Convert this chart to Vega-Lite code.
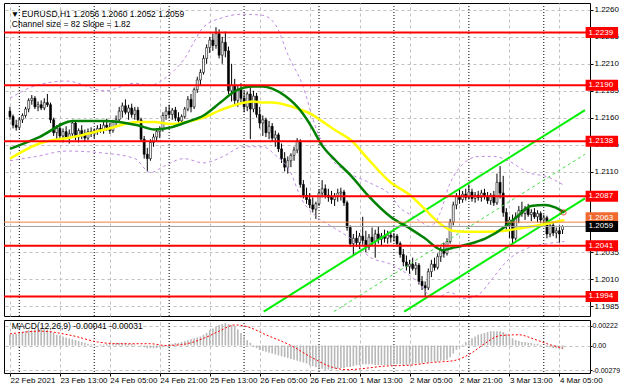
{
"$schema":"https://vega.github.io/schema/vega-lite/v6.json",
"background":"#ffffff",
"padding":{"left":2,"top":2,"right":0,"bottom":0},
"spacing":2,
"config":{"view":{"stroke":"#000000","strokeWidth":1},"font":"Liberation Sans"},
"datasets":{
"seps":[{"d":3},{"d":27},{"d":51},{"d":75},{"d":99},{"d":123},{"d":147},{"d":171}],
"levels":[{"v":1.2239},{"v":1.2190},{"v":1.2138},{"v":1.2087},{"v":1.2041},{"v":1.1994}],
"cur":[{"v":1.2063,"k":"ask"},{"v":1.2059,"k":"bid"}],
"tags":[{"v":1.2239,"t":"1.2239","k":"level"},{"v":1.2190,"t":"1.2190","k":"level"},{"v":1.2138,"t":"1.2138","k":"level"},{"v":1.2087,"t":"1.2087","k":"level"},{"v":1.2041,"t":"1.2041","k":"level"},{"v":1.1994,"t":"1.1994","k":"level"},{"v":1.2067,"t":"1.2063","k":"ask"},{"v":1.2059,"t":"1.2059","k":"bid"}],
"circ":[{"i":177.3,"p":1.2072}],
"chan":[{"ln":"upper","i":81.3,"p":1.1980},{"ln":"upper","i":184.2,"p":1.2167},{"ln":"mid","i":103.8,"p":1.1980},{"ln":"mid","i":184.2,"p":1.2126},{"ln":"lower","i":126.3,"p":1.1980},{"ln":"lower","i":184.2,"p":1.2085}],
"ma":[{"i":0,"gr":1.2131,"ye":1.2122},{"i":9.4,"gr":1.2142,"ye":1.2136},{"i":20.2,"gr":1.2157,"ye":1.2142},{"i":30.5,"gr":1.2157,"ye":1.2149},{"i":40.9,"gr":1.2153,"ye":1.2156},{"i":46.3,"gr":1.2149,"ye":1.2156},{"i":51.6,"gr":1.2151,"ye":1.2154},{"i":56.7,"gr":1.2156,"ye":1.2156},{"i":62,"gr":1.2162,"ye":1.2160},{"i":67.4,"gr":1.2174,"ye":1.2167},{"i":72.4,"gr":1.2185,"ye":1.2172},{"i":77.8,"gr":1.2189,"ye":1.2175},{"i":81,"gr":1.2189,"ye":1.2174},{"i":84,"gr":1.2187,"ye":1.2174},{"i":88.2,"gr":1.2180,"ye":1.2172},{"i":93.5,"gr":1.2165,"ye":1.2167},{"i":96.7,"gr":1.2151,"ye":1.2163},{"i":99.8,"gr":1.2135,"ye":1.2157},{"i":104.4,"gr":1.2120,"ye":1.2148},{"i":109.3,"gr":1.2106,"ye":1.2139},{"i":114.6,"gr":1.2088,"ye":1.2122},{"i":121.9,"gr":1.2068,"ye":1.2100},{"i":128.2,"gr":1.2057,"ye":1.2088},{"i":132.9,"gr":1.2048,"ye":1.2075},{"i":138.5,"gr":1.2037,"ye":1.2060},{"i":141.7,"gr":1.2039,"ye":1.2055},{"i":146.1,"gr":1.2042,"ye":1.2054},{"i":152.4,"gr":1.2048,"ye":1.2054},{"i":158.7,"gr":1.2059,"ye":1.2055},{"i":162.8,"gr":1.2069,"ye":1.2057},{"i":166.9,"gr":1.2078,"ye":1.2059},{"i":171.3,"gr":1.2079,"ye":1.2061},{"i":174.4,"gr":1.2077,"ye":1.2063},{"i":177.6,"gr":1.2072,"ye":1.2065}],
"bb":[{"i":0,"u":1.2178,"lo":1.2120},{"i":8.5,"u":1.2190,"lo":1.2124},{"i":18,"u":1.2194,"lo":1.2129},{"i":30.5,"u":1.2185,"lo":1.2127},{"i":40,"u":1.2192,"lo":1.2122},{"i":45,"u":1.2190,"lo":1.2109},{"i":49.4,"u":1.2196,"lo":1.2115},{"i":55.7,"u":1.2214,"lo":1.2122},{"i":62,"u":1.2244,"lo":1.2118},{"i":68.3,"u":1.2253,"lo":1.2124},{"i":74.6,"u":1.2256,"lo":1.2133},{"i":81,"u":1.2255,"lo":1.2133},{"i":85.1,"u":1.2246,"lo":1.2125},{"i":89.4,"u":1.2216,"lo":1.2112},{"i":93.5,"u":1.2192,"lo":1.2084},{"i":98.2,"u":1.2149,"lo":1.2068},{"i":103,"u":1.2122,"lo":1.2059},{"i":109,"u":1.2108,"lo":1.2048},{"i":115.6,"u":1.2099,"lo":1.2030},{"i":121.9,"u":1.2088,"lo":1.2024},{"i":125,"u":1.2076,"lo":1.2019},{"i":128.2,"u":1.2070,"lo":1.2013},{"i":131.3,"u":1.2064,"lo":1.2006},{"i":134.4,"u":1.2059,"lo":1.1995},{"i":137.6,"u":1.2070,"lo":1.1994},{"i":140.7,"u":1.2097,"lo":1.1998},{"i":145.5,"u":1.2118,"lo":1.1992},{"i":150.2,"u":1.2124,"lo":1.1996},{"i":154.9,"u":1.2124,"lo":1.2012},{"i":159.6,"u":1.2120,"lo":1.2028},{"i":166,"u":1.2109,"lo":1.2039},{"i":172.2,"u":1.2105,"lo":1.2043},{"i":177.6,"u":1.2097,"lo":1.2045}],
"sig":[{"i":0,"s":0.0013},{"i":10,"s":0.0016},{"i":20,"s":0.0011},{"i":28,"s":0.0004},{"i":35,"s":0.0002},{"i":45,"s":0.0002},{"i":50,"s":0.0000},{"i":55,"s":0.0001},{"i":62,"s":0.0008},{"i":67,"s":0.0016},{"i":72,"s":0.0023},{"i":76,"s":0.0021},{"i":82,"s":0.0012},{"i":90,"s":0.0000},{"i":97,"s":-0.0014},{"i":103,"s":-0.0024},{"i":108,"s":-0.0027},{"i":115,"s":-0.0025},{"i":120,"s":-0.0023},{"i":128,"s":-0.0022},{"i":135,"s":-0.0019},{"i":142,"s":-0.0017},{"i":148,"s":-0.0008},{"i":152,"s":0.0002},{"i":157,"s":0.0011},{"i":163,"s":0.0012},{"i":168,"s":0.0007},{"i":172,"s":0.0002},{"i":177,"s":-0.0003}],
"bars":[
{"i":0,"o":1.2166,"h":1.2170,"l":1.2158,"c":1.2161,"m":0.0012},
{"i":1,"o":1.2161,"h":1.2163,"l":1.2150,"c":1.2153,"m":0.0013},
{"i":2,"o":1.2153,"h":1.2158,"l":1.2148,"c":1.2151,"m":0.0013},
{"i":3,"o":1.2151,"h":1.2160,"l":1.2149,"c":1.2158,"m":0.0014},
{"i":4,"o":1.2158,"h":1.2164,"l":1.2155,"c":1.2162,"m":0.0015},
{"i":5,"o":1.2162,"h":1.2170,"l":1.2160,"c":1.2168,"m":0.0016},
{"i":6,"o":1.2168,"h":1.2178,"l":1.2165,"c":1.2176,"m":0.0017},
{"i":7,"o":1.2176,"h":1.2181,"l":1.2172,"c":1.2178,"m":0.0017},
{"i":8,"o":1.2178,"h":1.2180,"l":1.2168,"c":1.2170,"m":0.0018},
{"i":9,"o":1.2170,"h":1.2175,"l":1.2166,"c":1.2172,"m":0.0018},
{"i":10,"o":1.2172,"h":1.2176,"l":1.2167,"c":1.2169,"m":0.0019},
{"i":11,"o":1.2169,"h":1.2178,"l":1.2167,"c":1.2174,"m":0.0019},
{"i":12,"o":1.2174,"h":1.2182,"l":1.2170,"c":1.2172,"m":0.0018},
{"i":13,"o":1.2172,"h":1.2174,"l":1.2155,"c":1.2158,"m":0.0016},
{"i":14,"o":1.2158,"h":1.2160,"l":1.2143,"c":1.2146,"m":0.0014},
{"i":15,"o":1.2146,"h":1.2153,"l":1.2140,"c":1.2150,"m":0.0012},
{"i":16,"o":1.2150,"h":1.2155,"l":1.2141,"c":1.2143,"m":0.0011},
{"i":17,"o":1.2143,"h":1.2150,"l":1.2137,"c":1.2147,"m":0.0010},
{"i":18,"o":1.2147,"h":1.2152,"l":1.2140,"c":1.2141,"m":0.0009},
{"i":19,"o":1.2141,"h":1.2149,"l":1.2136,"c":1.2145,"m":0.0008},
{"i":20,"o":1.2145,"h":1.2158,"l":1.2143,"c":1.2155,"m":0.0007},
{"i":21,"o":1.2155,"h":1.2157,"l":1.2139,"c":1.2142,"m":0.0006},
{"i":22,"o":1.2142,"h":1.2150,"l":1.2137,"c":1.2148,"m":0.0005},
{"i":23,"o":1.2148,"h":1.2153,"l":1.2140,"c":1.2144,"m":0.0004},
{"i":24,"o":1.2144,"h":1.2149,"l":1.2138,"c":1.2141,"m":0.0003},
{"i":25,"o":1.2141,"h":1.2150,"l":1.2139,"c":1.2147,"m":0.0002},
{"i":26,"o":1.2147,"h":1.2151,"l":1.2142,"c":1.2145,"m":0.0001},
{"i":27,"o":1.2145,"h":1.2150,"l":1.2141,"c":1.2148,"m":0.0001},
{"i":28,"o":1.2148,"h":1.2153,"l":1.2144,"c":1.2150,"m":0.0000},
{"i":29,"o":1.2150,"h":1.2154,"l":1.2146,"c":1.2149,"m":0.0001},
{"i":30,"o":1.2149,"h":1.2156,"l":1.2145,"c":1.2153,"m":0.0001},
{"i":31,"o":1.2153,"h":1.2159,"l":1.2148,"c":1.2151,"m":0.0002},
{"i":32,"o":1.2151,"h":1.2155,"l":1.2145,"c":1.2148,"m":0.0002},
{"i":33,"o":1.2148,"h":1.2158,"l":1.2146,"c":1.2156,"m":0.0002},
{"i":34,"o":1.2156,"h":1.2162,"l":1.2152,"c":1.2158,"m":0.0003},
{"i":35,"o":1.2158,"h":1.2170,"l":1.2155,"c":1.2166,"m":0.0003},
{"i":36,"o":1.2166,"h":1.2174,"l":1.2160,"c":1.2171,"m":0.0003},
{"i":37,"o":1.2171,"h":1.2177,"l":1.2163,"c":1.2165,"m":0.0003},
{"i":38,"o":1.2165,"h":1.2172,"l":1.2158,"c":1.2169,"m":0.0002},
{"i":39,"o":1.2169,"h":1.2173,"l":1.2160,"c":1.2163,"m":0.0002},
{"i":40,"o":1.2163,"h":1.2170,"l":1.2158,"c":1.2167,"m":0.0001},
{"i":41,"o":1.2167,"h":1.2170,"l":1.2155,"c":1.2158,"m":0.0000},
{"i":42,"o":1.2158,"h":1.2160,"l":1.2138,"c":1.2140,"m":-0.0001},
{"i":43,"o":1.2140,"h":1.2143,"l":1.2122,"c":1.2126,"m":-0.0002},
{"i":44,"o":1.2126,"h":1.2132,"l":1.2110,"c":1.2122,"m":-0.0003},
{"i":45,"o":1.2122,"h":1.2140,"l":1.2120,"c":1.2137,"m":-0.0003},
{"i":46,"o":1.2137,"h":1.2145,"l":1.2133,"c":1.2142,"m":-0.0003},
{"i":47,"o":1.2142,"h":1.2150,"l":1.2138,"c":1.2147,"m":-0.0003},
{"i":48,"o":1.2147,"h":1.2152,"l":1.2141,"c":1.2149,"m":-0.0002},
{"i":49,"o":1.2149,"h":1.2165,"l":1.2147,"c":1.2162,"m":-0.0002},
{"i":50,"o":1.2162,"h":1.2170,"l":1.2158,"c":1.2166,"m":-0.0001},
{"i":51,"o":1.2166,"h":1.2172,"l":1.2160,"c":1.2163,"m":0.0001},
{"i":52,"o":1.2163,"h":1.2169,"l":1.2158,"c":1.2167,"m":0.0002},
{"i":53,"o":1.2167,"h":1.2170,"l":1.2157,"c":1.2160,"m":0.0003},
{"i":54,"o":1.2160,"h":1.2165,"l":1.2154,"c":1.2157,"m":0.0003},
{"i":55,"o":1.2157,"h":1.2163,"l":1.2155,"c":1.2161,"m":0.0004},
{"i":56,"o":1.2161,"h":1.2170,"l":1.2159,"c":1.2168,"m":0.0005},
{"i":57,"o":1.2168,"h":1.2180,"l":1.2166,"c":1.2177,"m":0.0006},
{"i":58,"o":1.2177,"h":1.2182,"l":1.2165,"c":1.2170,"m":0.0007},
{"i":59,"o":1.2170,"h":1.2188,"l":1.2168,"c":1.2186,"m":0.0008},
{"i":60,"o":1.2186,"h":1.2198,"l":1.2183,"c":1.2195,"m":0.0009},
{"i":61,"o":1.2195,"h":1.2205,"l":1.2190,"c":1.2202,"m":0.0010},
{"i":62,"o":1.2202,"h":1.2218,"l":1.2200,"c":1.2215,"m":0.0012},
{"i":63,"o":1.2215,"h":1.2228,"l":1.2210,"c":1.2225,"m":0.0014},
{"i":64,"o":1.2225,"h":1.2235,"l":1.2220,"c":1.2232,"m":0.0017},
{"i":65,"o":1.2232,"h":1.2238,"l":1.2222,"c":1.2227,"m":0.0019},
{"i":66,"o":1.2227,"h":1.2244,"l":1.2224,"c":1.2238,"m":0.0021},
{"i":67,"o":1.2238,"h":1.2242,"l":1.2215,"c":1.2218,"m":0.0023},
{"i":68,"o":1.2218,"h":1.2235,"l":1.2210,"c":1.2230,"m":0.0024},
{"i":69,"o":1.2230,"h":1.2240,"l":1.2216,"c":1.2222,"m":0.0025},
{"i":70,"o":1.2222,"h":1.2226,"l":1.2182,"c":1.2185,"m":0.0024},
{"i":71,"o":1.2185,"h":1.2210,"l":1.2175,"c":1.2190,"m":0.0023},
{"i":72,"o":1.2190,"h":1.2196,"l":1.2172,"c":1.2176,"m":0.0021},
{"i":73,"o":1.2176,"h":1.2190,"l":1.2170,"c":1.2186,"m":0.0018},
{"i":74,"o":1.2186,"h":1.2192,"l":1.2174,"c":1.2178,"m":0.0014},
{"i":75,"o":1.2178,"h":1.2185,"l":1.2165,"c":1.2170,"m":0.0010},
{"i":76,"o":1.2170,"h":1.2184,"l":1.2166,"c":1.2182,"m":0.0006},
{"i":77,"o":1.2182,"h":1.2188,"l":1.2140,"c":1.2168,"m":0.0003},
{"i":78,"o":1.2168,"h":1.2185,"l":1.2165,"c":1.2180,"m":-0.0001},
{"i":79,"o":1.2180,"h":1.2183,"l":1.2160,"c":1.2163,"m":-0.0003},
{"i":80,"o":1.2163,"h":1.2170,"l":1.2150,"c":1.2155,"m":-0.0005},
{"i":81,"o":1.2155,"h":1.2162,"l":1.2143,"c":1.2158,"m":-0.0006},
{"i":82,"o":1.2158,"h":1.2160,"l":1.2142,"c":1.2146,"m":-0.0007},
{"i":83,"o":1.2146,"h":1.2157,"l":1.2140,"c":1.2152,"m":-0.0008},
{"i":84,"o":1.2152,"h":1.2155,"l":1.2138,"c":1.2141,"m":-0.0009},
{"i":85,"o":1.2141,"h":1.2148,"l":1.2133,"c":1.2144,"m":-0.0010},
{"i":86,"o":1.2144,"h":1.2146,"l":1.2128,"c":1.2131,"m":-0.0011},
{"i":87,"o":1.2131,"h":1.2136,"l":1.2118,"c":1.2122,"m":-0.0012},
{"i":88,"o":1.2122,"h":1.2128,"l":1.2110,"c":1.2114,"m":-0.0013},
{"i":89,"o":1.2114,"h":1.2124,"l":1.2108,"c":1.2120,"m":-0.0014},
{"i":90,"o":1.2120,"h":1.2127,"l":1.2114,"c":1.2125,"m":-0.0015},
{"i":91,"o":1.2125,"h":1.2133,"l":1.2120,"c":1.2130,"m":-0.0016},
{"i":92,"o":1.2130,"h":1.2141,"l":1.2127,"c":1.2138,"m":-0.0017},
{"i":93,"o":1.2138,"h":1.2140,"l":1.2095,"c":1.2098,"m":-0.0018},
{"i":94,"o":1.2098,"h":1.2102,"l":1.2085,"c":1.2088,"m":-0.0019},
{"i":95,"o":1.2088,"h":1.2095,"l":1.2080,"c":1.2084,"m":-0.0020},
{"i":96,"o":1.2084,"h":1.2090,"l":1.2076,"c":1.2079,"m":-0.0022},
{"i":97,"o":1.2079,"h":1.2086,"l":1.2072,"c":1.2075,"m":-0.0023},
{"i":98,"o":1.2075,"h":1.2082,"l":1.2066,"c":1.2080,"m":-0.0024},
{"i":99,"o":1.2080,"h":1.2093,"l":1.2078,"c":1.2090,"m":-0.0025},
{"i":100,"o":1.2090,"h":1.2102,"l":1.2086,"c":1.2094,"m":-0.0026},
{"i":101,"o":1.2094,"h":1.2098,"l":1.2085,"c":1.2088,"m":-0.0027},
{"i":102,"o":1.2088,"h":1.2094,"l":1.2082,"c":1.2086,"m":-0.0027},
{"i":103,"o":1.2086,"h":1.2092,"l":1.2080,"c":1.2084,"m":-0.0027},
{"i":104,"o":1.2084,"h":1.2090,"l":1.2078,"c":1.2087,"m":-0.0026},
{"i":105,"o":1.2087,"h":1.2094,"l":1.2082,"c":1.2090,"m":-0.0026},
{"i":106,"o":1.2090,"h":1.2095,"l":1.2083,"c":1.2091,"m":-0.0025},
{"i":107,"o":1.2091,"h":1.2093,"l":1.2078,"c":1.2081,"m":-0.0025},
{"i":108,"o":1.2081,"h":1.2083,"l":1.2055,"c":1.2058,"m":-0.0024},
{"i":109,"o":1.2058,"h":1.2060,"l":1.2040,"c":1.2043,"m":-0.0024},
{"i":110,"o":1.2043,"h":1.2052,"l":1.2032,"c":1.2048,"m":-0.0023},
{"i":111,"o":1.2048,"h":1.2055,"l":1.2040,"c":1.2044,"m":-0.0022},
{"i":112,"o":1.2044,"h":1.2053,"l":1.2038,"c":1.2050,"m":-0.0022},
{"i":113,"o":1.2050,"h":1.2068,"l":1.2042,"c":1.2046,"m":-0.0021},
{"i":114,"o":1.2046,"h":1.2055,"l":1.2035,"c":1.2040,"m":-0.0021},
{"i":115,"o":1.2040,"h":1.2052,"l":1.2037,"c":1.2049,"m":-0.0021},
{"i":116,"o":1.2049,"h":1.2058,"l":1.2041,"c":1.2045,"m":-0.0021},
{"i":117,"o":1.2045,"h":1.2056,"l":1.2030,"c":1.2052,"m":-0.0022},
{"i":118,"o":1.2052,"h":1.2059,"l":1.2043,"c":1.2047,"m":-0.0022},
{"i":119,"o":1.2047,"h":1.2053,"l":1.2041,"c":1.2050,"m":-0.0022},
{"i":120,"o":1.2050,"h":1.2056,"l":1.2044,"c":1.2048,"m":-0.0022},
{"i":121,"o":1.2048,"h":1.2055,"l":1.2043,"c":1.2051,"m":-0.0022},
{"i":122,"o":1.2051,"h":1.2054,"l":1.2044,"c":1.2049,"m":-0.0022},
{"i":123,"o":1.2049,"h":1.2053,"l":1.2045,"c":1.2050,"m":-0.0021},
{"i":124,"o":1.2050,"h":1.2052,"l":1.2040,"c":1.2043,"m":-0.0021},
{"i":125,"o":1.2043,"h":1.2045,"l":1.2030,"c":1.2033,"m":-0.0021},
{"i":126,"o":1.2033,"h":1.2038,"l":1.2022,"c":1.2026,"m":-0.0022},
{"i":127,"o":1.2026,"h":1.2032,"l":1.2018,"c":1.2022,"m":-0.0022},
{"i":128,"o":1.2022,"h":1.2028,"l":1.2015,"c":1.2024,"m":-0.0021},
{"i":129,"o":1.2024,"h":1.2030,"l":1.2018,"c":1.2020,"m":-0.0021},
{"i":130,"o":1.2020,"h":1.2026,"l":1.2014,"c":1.2023,"m":-0.0020},
{"i":131,"o":1.2023,"h":1.2025,"l":1.2005,"c":1.2008,"m":-0.0020},
{"i":132,"o":1.2008,"h":1.2013,"l":1.2000,"c":1.2004,"m":-0.0020},
{"i":133,"o":1.2004,"h":1.2008,"l":1.1994,"c":1.2002,"m":-0.0019},
{"i":134,"o":1.2002,"h":1.2020,"l":1.2000,"c":1.2017,"m":-0.0019},
{"i":135,"o":1.2017,"h":1.2028,"l":1.2012,"c":1.2024,"m":-0.0018},
{"i":136,"o":1.2024,"h":1.2030,"l":1.2018,"c":1.2021,"m":-0.0018},
{"i":137,"o":1.2021,"h":1.2034,"l":1.2019,"c":1.2031,"m":-0.0018},
{"i":138,"o":1.2031,"h":1.2040,"l":1.2026,"c":1.2037,"m":-0.0017},
{"i":139,"o":1.2037,"h":1.2044,"l":1.2030,"c":1.2034,"m":-0.0017},
{"i":140,"o":1.2034,"h":1.2048,"l":1.2032,"c":1.2045,"m":-0.0016},
{"i":141,"o":1.2045,"h":1.2066,"l":1.2043,"c":1.2063,"m":-0.0013},
{"i":142,"o":1.2063,"h":1.2082,"l":1.2060,"c":1.2079,"m":-0.0009},
{"i":143,"o":1.2079,"h":1.2090,"l":1.2075,"c":1.2087,"m":-0.0005},
{"i":144,"o":1.2087,"h":1.2093,"l":1.2080,"c":1.2084,"m":-0.0002},
{"i":145,"o":1.2084,"h":1.2092,"l":1.2081,"c":1.2089,"m":0.0001},
{"i":146,"o":1.2089,"h":1.2094,"l":1.2083,"c":1.2086,"m":0.0004},
{"i":147,"o":1.2086,"h":1.2098,"l":1.2084,"c":1.2091,"m":0.0006},
{"i":148,"o":1.2091,"h":1.2094,"l":1.2082,"c":1.2085,"m":0.0008},
{"i":149,"o":1.2085,"h":1.2091,"l":1.2081,"c":1.2088,"m":0.0010},
{"i":150,"o":1.2088,"h":1.2092,"l":1.2083,"c":1.2086,"m":0.0012},
{"i":151,"o":1.2086,"h":1.2093,"l":1.2082,"c":1.2090,"m":0.0013},
{"i":152,"o":1.2090,"h":1.2094,"l":1.2084,"c":1.2087,"m":0.0014},
{"i":153,"o":1.2087,"h":1.2091,"l":1.2080,"c":1.2083,"m":0.0015},
{"i":154,"o":1.2083,"h":1.2090,"l":1.2079,"c":1.2088,"m":0.0016},
{"i":155,"o":1.2088,"h":1.2092,"l":1.2078,"c":1.2081,"m":0.0016},
{"i":156,"o":1.2081,"h":1.2108,"l":1.2079,"c":1.2100,"m":0.0016},
{"i":157,"o":1.2100,"h":1.2115,"l":1.2085,"c":1.2090,"m":0.0016},
{"i":158,"o":1.2090,"h":1.2106,"l":1.2068,"c":1.2072,"m":0.0015},
{"i":159,"o":1.2072,"h":1.2076,"l":1.2055,"c":1.2060,"m":0.0013},
{"i":160,"o":1.2060,"h":1.2068,"l":1.2048,"c":1.2065,"m":0.0010},
{"i":161,"o":1.2065,"h":1.2070,"l":1.2043,"c":1.2048,"m":0.0008},
{"i":162,"o":1.2048,"h":1.2072,"l":1.2046,"c":1.2068,"m":0.0006},
{"i":163,"o":1.2068,"h":1.2078,"l":1.2062,"c":1.2074,"m":0.0005},
{"i":164,"o":1.2074,"h":1.2082,"l":1.2068,"c":1.2071,"m":0.0004},
{"i":165,"o":1.2071,"h":1.2078,"l":1.2065,"c":1.2076,"m":0.0004},
{"i":166,"o":1.2076,"h":1.2080,"l":1.2068,"c":1.2070,"m":0.0003},
{"i":167,"o":1.2070,"h":1.2075,"l":1.2064,"c":1.2072,"m":0.0003},
{"i":168,"o":1.2072,"h":1.2076,"l":1.2066,"c":1.2068,"m":0.0002},
{"i":169,"o":1.2068,"h":1.2074,"l":1.2063,"c":1.2071,"m":0.0002},
{"i":170,"o":1.2071,"h":1.2073,"l":1.2062,"c":1.2065,"m":0.0001},
{"i":171,"o":1.2065,"h":1.2070,"l":1.2060,"c":1.2067,"m":0.0000},
{"i":172,"o":1.2067,"h":1.2069,"l":1.2048,"c":1.2052,"m":-0.0001},
{"i":173,"o":1.2052,"h":1.2063,"l":1.2049,"c":1.2060,"m":-0.0002},
{"i":174,"o":1.2060,"h":1.2064,"l":1.2050,"c":1.2053,"m":-0.0003},
{"i":175,"o":1.2053,"h":1.2058,"l":1.2048,"c":1.2055,"m":-0.0003},
{"i":176,"o":1.2055,"h":1.2060,"l":1.2044,"c":1.2052,"m":-0.0004},
{"i":177,"o":1.2056,"h":1.2060,"l":1.2052,"c":1.2059,"m":-0.0004}
]},
"vconcat":[
{"width":586,"height":313,
 "resolve":{"axis":{"x":"independent","y":"independent"}},
 "layer":[
 {"data":{"name":"seps"},"mark":{"type":"rule","stroke":"#000000","strokeDash":[1,2],"strokeWidth":1},
  "encoding":{"x":{"field":"d","type":"quantitative","scale":{"domain":[-0.3,184.2],"nice":false,"zero":false},"axis":{"values":[0,16,32,48,64,80,96,112,128,144,160,176],"grid":true,"gridColor":"#c0c0c0","gridDash":[3,3],"labels":false,"ticks":false,"domain":false,"title":null,"zindex":0}}}},
 {"data":{"name":"levels"},"mark":{"type":"rule","stroke":"#ff0000","strokeWidth":2,"opacity":0},
  "encoding":{"y":{"field":"v","type":"quantitative","scale":{"domain":[1.19805,1.22618],"nice":false,"zero":false},"axis":{"orient":"right","values":[1.2260,1.2235,1.2210,1.2185,1.2160,1.2135,1.2110,1.2035,1.2010,1.1985],"format":".4f","grid":true,"gridColor":"#c0c0c0","gridDash":[3,3],"tickSize":3,"tickColor":"#000000","labelPadding":1,"labelFont":"Liberation Sans","labelFontSize":8,"labelColor":"#000000","labelOverlap":false,"labelBound":false,"labelFlush":false,"domain":false,"title":null,"zindex":0}}}},
 {"data":{"name":"bars"},"mark":{"type":"rule","stroke":"#000000","strokeWidth":1},
  "encoding":{"x":{"field":"i","type":"quantitative","axis":null},"y":{"field":"l","type":"quantitative","axis":null},"y2":{"field":"h"}}},
 {"data":{"name":"bars"},"mark":{"type":"bar","size":2,"stroke":"#000000","strokeWidth":0.6},
  "encoding":{"x":{"field":"i","type":"quantitative","axis":null},"y":{"field":"o","type":"quantitative","axis":null},"y2":{"field":"c"},"fill":{"condition":{"test":"datum.c < datum.o","value":"#000000"},"value":"#ffffff"}}},
 {"data":{"name":"bb"},"mark":{"type":"line","stroke":"#c08ce0","strokeDash":[3,3],"strokeWidth":1,"interpolate":"monotone","clip":true},
  "encoding":{"x":{"field":"i","type":"quantitative","axis":null},"y":{"field":"u","type":"quantitative","axis":null}}},
 {"data":{"name":"bb"},"mark":{"type":"line","stroke":"#c08ce0","strokeDash":[3,3],"strokeWidth":1,"interpolate":"monotone","clip":true},
  "encoding":{"x":{"field":"i","type":"quantitative","axis":null},"y":{"field":"lo","type":"quantitative","axis":null}}},
 {"data":{"name":"chan"},"transform":[{"filter":"datum.ln != 'mid'"}],"mark":{"type":"line","stroke":"#00ee00","strokeWidth":2,"clip":true},
  "encoding":{"x":{"field":"i","type":"quantitative","axis":null},"y":{"field":"p","type":"quantitative","axis":null},"detail":{"field":"ln"}}},
 {"data":{"name":"chan"},"transform":[{"filter":"datum.ln == 'mid'"}],"mark":{"type":"line","stroke":"#44dd44","strokeWidth":1,"strokeDash":[3,3],"clip":true},
  "encoding":{"x":{"field":"i","type":"quantitative","axis":null},"y":{"field":"p","type":"quantitative","axis":null}}},
 {"data":{"name":"ma"},"mark":{"type":"line","stroke":"#ffff00","strokeWidth":2.5,"interpolate":"monotone"},
  "encoding":{"x":{"field":"i","type":"quantitative","axis":null},"y":{"field":"ye","type":"quantitative","axis":null}}},
 {"data":{"name":"ma"},"mark":{"type":"line","stroke":"#008000","strokeWidth":2.5,"interpolate":"monotone"},
  "encoding":{"x":{"field":"i","type":"quantitative","axis":null},"y":{"field":"gr","type":"quantitative","axis":null}}},
 {"data":{"name":"levels"},"mark":{"type":"rule","stroke":"#ff0000","strokeWidth":2},
  "encoding":{"y":{"field":"v","type":"quantitative","axis":null}}},
 {"data":{"name":"cur"},"mark":{"type":"rule","strokeWidth":1},
  "encoding":{"y":{"field":"v","type":"quantitative","axis":null},"stroke":{"field":"k","type":"nominal","scale":{"domain":["ask","bid"],"range":["#f08040","#a0a0a0"]},"legend":null}}},
 {"data":{"name":"circ"},"mark":{"type":"point","shape":"circle","filled":false,"stroke":"#ff0000","strokeWidth":1,"size":28},
  "encoding":{"x":{"field":"i","type":"quantitative","axis":null},"y":{"field":"p","type":"quantitative","axis":null}}},
 {"data":{"name":"tags"},"mark":{"type":"bar","orient":"horizontal","size":11},
  "encoding":{"x":{"datum":184.4,"type":"quantitative","axis":null},"x2":{"datum":194.8},"y":{"field":"v","type":"quantitative","axis":null},"fill":{"field":"k","type":"nominal","scale":{"domain":["level","ask","bid"],"range":["#ff0000","#f06a30","#000000"]},"legend":null}}},
 {"data":{"name":"tags"},"mark":{"type":"text","align":"left","baseline":"middle","fill":"#ffffff","fontSize":8,"dx":3},
  "encoding":{"x":{"datum":184.4,"type":"quantitative","axis":null},"y":{"field":"v","type":"quantitative","axis":null},"text":{"field":"t"}}},
 {"data":{"values":[{}]},"mark":{"type":"text","align":"left","baseline":"middle","fill":"#000000","fontSize":8.5},
  "encoding":{"x":{"datum":0.3,"type":"quantitative","axis":null},"y":{"datum":1.22564,"type":"quantitative","axis":null},"text":{"value":"▼ EURUSD,H1  1.2056 1.2060 1.2052 1.2059"}}},
 {"data":{"values":[{}]},"mark":{"type":"text","align":"left","baseline":"middle","fill":"#000000","fontSize":8.5,"dx":1},
  "encoding":{"x":{"datum":0.3,"type":"quantitative","axis":null},"y":{"datum":1.22465,"type":"quantitative","axis":null},"text":{"value":"Channel size = 82 Slope = 1.82"}}}
]},
{"width":586,"height":53,
 "resolve":{"axis":{"x":"independent","y":"independent"}},
 "layer":[
 {"data":{"name":"seps"},"mark":{"type":"rule","stroke":"#000000","strokeDash":[1,2],"strokeWidth":1},
  "encoding":{"x":{"field":"d","type":"quantitative","scale":{"domain":[-0.3,184.2],"nice":false,"zero":false},"axis":{"values":[0,16,32,48,64,80,96,112,128,144,160,176],"grid":true,"gridColor":"#c0c0c0","gridDash":[3,3],"labelExpr":"['22 Feb 2021','23 Feb 13:00','24 Feb 05:00','24 Feb 21:00','25 Feb 13:00','26 Feb 05:00','26 Feb 21:00','1 Mar 13:00','2 Mar 05:00','2 Mar 21:00','3 Mar 13:00','4 Mar 05:00'][round(datum.value/16)]","labelAlign":"left","labelPadding":0,"labelFont":"Liberation Sans","labelFontSize":8,"labelColor":"#000000","labelOverlap":false,"labelBound":false,"labelFlush":false,"tickSize":3,"tickColor":"#000000","domain":false,"title":null,"zindex":0}}}},
 {"data":{"name":"bars"},"mark":{"type":"bar","size":1.6,"fill":"#b8b8b8"},
  "encoding":{"x":{"field":"i","type":"quantitative","axis":null},"y":{"field":"m","type":"quantitative","scale":{"domain":[-0.00307,0.00285],"nice":false,"zero":false},"axis":{"orient":"right","values":[0.00222,0,-0.00279],"labelExpr":"datum.value > 0.001 ? '0.00222' : (datum.value < -0.001 ? '-0.00279' : '0.00')","grid":true,"gridColor":"#c0c0c0","gridDash":[3,3],"tickSize":2,"tickColor":"#000000","labelPadding":0,"labelFont":"Liberation Sans","labelFontSize":7,"labelColor":"#000000","labelOverlap":false,"labelBound":false,"labelFlush":false,"domain":false,"title":null,"zindex":0}},"y2":{"datum":0}}},
 {"data":{"name":"sig"},"mark":{"type":"line","stroke":"#ff0000","strokeWidth":1,"strokeDash":[2,2],"interpolate":"monotone"},
  "encoding":{"x":{"field":"i","type":"quantitative","axis":null},"y":{"field":"s","type":"quantitative","axis":null}}},
 {"data":{"values":[{}]},"mark":{"type":"text","align":"left","baseline":"middle","fill":"#000000","fontSize":8.5,"dx":1},
  "encoding":{"x":{"datum":0.3,"type":"quantitative","axis":null},"y":{"datum":0.00215,"type":"quantitative","axis":null},"text":{"value":"MACD(12,26,9) -0.00041 -0.00031"}}}
]}
]
}
